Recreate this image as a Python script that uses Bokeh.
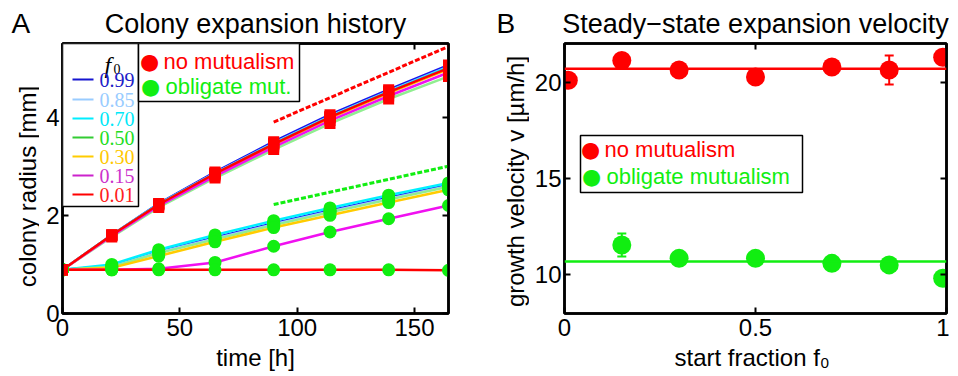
import math
from bokeh.plotting import figure
from bokeh.layouts import row
from bokeh.models import (Label, BoxAnnotation, Arrow, Whisker, TeeHead, ColumnDataSource,
                          LinearAxis, Range1d, FixedTicker, Span, CustomJSTickFormatter)
from bokeh.embed import file_html
from bokeh.resources import INLINE

# ---------------- Panel A data ----------------
time_h = [0, 21, 41, 65, 90, 114, 139, 164.5]
f0_labels = ["0.99", "0.85", "0.70", "0.50", "0.30", "0.15", "0.01"]

nomut_099 = [0.89, 1.60, 2.24, 2.88, 3.50, 4.05, 4.56, 5.06]
nomut_085 = [0.89, 1.60, 2.23, 2.86, 3.47, 4.02, 4.53, 5.03]
nomut_070 = [0.89, 1.60, 2.23, 2.85, 3.46, 4.01, 4.52, 5.02]
nomut_050 = [0.89, 1.56, 2.16, 2.76, 3.34, 3.87, 4.37, 4.83]
nomut_030 = [0.89, 1.59, 2.21, 2.83, 3.43, 3.98, 4.49, 4.98]
nomut_015 = [0.89, 1.58, 2.19, 2.80, 3.39, 3.93, 4.43, 4.91]
nomut_001 = [0.89, 1.60, 2.22, 2.85, 3.45, 4.00, 4.51, 5.00]

oblig_099 = [0.89, 0.97, 1.26, 1.55, 1.84, 2.10, 2.36, 2.62]
oblig_085 = [0.89, 0.96, 1.25, 1.53, 1.82, 2.08, 2.34, 2.60]
oblig_070 = [0.89, 1.00, 1.30, 1.60, 1.89, 2.15, 2.41, 2.66]
oblig_050 = [0.89, 0.95, 1.23, 1.51, 1.80, 2.06, 2.32, 2.58]
oblig_030 = [0.89, 0.93, 1.17, 1.46, 1.75, 2.00, 2.26, 2.52]
oblig_015 = [0.89, 0.89, 0.91, 1.04, 1.37, 1.66, 1.93, 2.20]
oblig_001 = [0.89, 0.89, 0.89, 0.89, 0.89, 0.89, 0.89, 0.88]

fit_t = [90, 164.5]
fit_nomut = [3.90, 5.44]
fit_oblig = [2.22, 3.00]

# ---------------- Panel B data ----------------
f0_nomut = [0.01, 0.15, 0.30, 0.50, 0.70, 0.85, 0.99]
v_nomut = [20.09, 21.12, 20.63, 20.26, 20.78, 20.63, 21.29]
v_nomut_err = [0.2, 0.2, 0.2, 0.2, 0.2, 0.75, 0.2]
f0_oblig = [0.15, 0.30, 0.50, 0.70, 0.85, 0.99]
v_oblig = [11.55, 10.86, 10.86, 10.60, 10.52, 9.83]
v_oblig_err = [0.6, 0.2, 0.2, 0.2, 0.2, 0.2]
v_nomut_mean = 20.69
v_oblig_mean = 10.69

# ---------------- styles ----------------
RED = "#FF0000"
GREEN = "#11EE11"
SANS = "Liberation Sans"
SERIF = "Liberation Serif"
line_colors = ["#1515F0", "#99CCFF", "#00F0FF", "#90EE90", "#FFCC00", "#F010F0", "#FF0000"]
legend_line_colors = ["#1515D0", "#99CCFF", "#00EEFF", "#33CC33", "#FFCC00", "#CC22CC", "#FF0000"]
legend_text_colors = ["#2020C8", "#99CCFF", "#00E8F8", "#22DD22", "#FFC800", "#CC33CC", "#FF2020"]
EMPTY = CustomJSTickFormatter(code="return '';")
FH = 270
TOP = 34
BOTTOM = 56


def style_title(p, size="27px", align="center"):
    p.title.text_font = SANS
    p.title.text_font_size = size
    p.title.text_font_style = "normal"
    p.title.align = align
    p.title.text_color = "black"


def style_axes(p, xticks, yticks, xfmt=None):
    p.xaxis.ticker = FixedTicker(ticks=xticks)
    p.yaxis.ticker = FixedTicker(ticks=yticks)
    if xfmt is not None:
        p.xaxis.formatter = xfmt
    top = LinearAxis(ticker=FixedTicker(ticks=xticks), formatter=EMPTY)
    right = LinearAxis(ticker=FixedTicker(ticks=yticks), formatter=EMPTY)
    p.add_layout(top, "above")
    p.add_layout(right, "right")
    for ax in [top, right]:
        ax.major_label_standoff = 0
    for ax in p.xaxis + p.yaxis:
        ax.axis_line_width = 2.5
        ax.axis_line_color = "black"
        ax.major_tick_in = 6
        ax.major_tick_out = 0
        ax.major_tick_line_width = 2
        ax.minor_tick_line_color = None
        ax.major_label_text_font = SANS
        ax.major_label_text_font_size = "24px"
        ax.major_label_text_color = "black"
        ax.axis_label_text_font = SANS
        ax.axis_label_text_font_size = "24px"
        ax.axis_label_text_font_style = "normal"
        ax.axis_label_text_color = "black"
    for ax in [top, right]:
        ax.major_label_text_font_size = "1px"
    p.xaxis[0].major_label_standoff = 3
    p.xaxis[0].axis_label_standoff = 2
    p.yaxis[0].major_label_standoff = 3
    p.xgrid.visible = False
    p.ygrid.visible = False
    p.outline_line_color = "black"
    p.outline_line_width = 2.5
    style_title(p)


def lab(p, x, y, text, color="black", size="22px", font=SANS, style="normal",
        align="left", baseline="middle", angle=0.0):
    p.add_layout(Label(x=x, y=y, x_units="screen", y_units="screen", text=text,
                       text_color=color, text_font_size=size, text_font=font,
                       text_font_style=style, text_align=align, text_baseline=baseline,
                       angle=angle))


def box(p, left, right, top, bottom):
    p.add_layout(BoxAnnotation(left=left, right=right, top=top, bottom=bottom,
                               left_units="screen", right_units="screen",
                               top_units="screen", bottom_units="screen",
                               fill_color="white", fill_alpha=1.0,
                               line_color="black", line_width=1.5, line_alpha=1.0))


def text_strip(width, letter, offset):
    s = figure(width=width, frame_height=FH, min_border_left=0, min_border_right=0,
               min_border_top=TOP, min_border_bottom=BOTTOM,
               x_axis_type=None, y_axis_type=None, title=letter,
               x_range=Range1d(0, width), y_range=Range1d(0, 1),
               output_backend="svg", toolbar_location=None)
    s.outline_line_color = None
    s.xgrid.visible = False
    s.ygrid.visible = False
    style_title(s, size="28px", align="left")
    s.title.offset = offset
    return s


# ================= strip with "A" and the y label of panel A =================
stripA = text_strip(39, "A", 11)
lab(stripA, 27, 127, "colony radius [mm]", size="24px", align="center", angle=math.pi / 2)

# ================= Panel A =================
pa = figure(width=432, frame_height=FH, min_border_left=23, min_border_right=23,
            min_border_top=TOP, min_border_bottom=BOTTOM,
            x_range=Range1d(0, 164.5), y_range=Range1d(0, 5.5),
            output_backend="svg", toolbar_location=None,
            title="Colony expansion history", x_axis_label="time [h]")
style_axes(pa, [0, 50, 100, 150], [0, 2, 4])
pa.title.offset = -5

nomut_series = [nomut_099, nomut_085, nomut_070, nomut_050, nomut_030, nomut_015, nomut_001]
oblig_series = [oblig_099, oblig_085, oblig_070, oblig_050, oblig_030, oblig_015, oblig_001]

for ys, c in zip(oblig_series, line_colors):
    pa.line(time_h, ys, line_color=c, line_width=2.5)
for ys, c in zip(nomut_series, line_colors):
    pa.line(time_h, ys, line_color=c, line_width=2.5)
pa.line(fit_t, fit_nomut, line_color=RED, line_width=3, line_dash="5 2")
pa.line(fit_t, fit_oblig, line_color=GREEN, line_width=3, line_dash="5 2")
for ys in oblig_series:
    pa.scatter(time_h, ys, marker="circle", size=13, fill_color=GREEN, line_color=None)
for ys in nomut_series:
    pa.scatter(time_h, ys, marker="square", size=11, fill_color=RED, line_color=None)

# f0 legend (screen coords relative to frame bottom-left)
box(pa, 0, 76, 270, 107)
lab(pa, 42, 249, "f", size="24px", font=SERIF, style="italic", baseline="alphabetic")
lab(pa, 51, 245, "0", size="14px", font=SERIF, baseline="alphabetic")
row_y = [234, 214, 195, 176, 157, 138, 119]
for yy, t, lc, tc in zip(row_y, f0_labels, legend_line_colors, legend_text_colors):
    pa.add_layout(Arrow(end=None, x_start=10, y_start=yy, x_end=31, y_end=yy,
                        start_units="screen", end_units="screen",
                        line_color=lc, line_width=2))
    lab(pa, 37, yy, t, color=tc, size="20px", font=SERIF)

# marker legend
box(pa, 76, 237, 270, 212)
lab(pa, 87, 252, "\u25cf", color=RED, size="22px", font="DejaVu Sans", align="center")
lab(pa, 101, 252, "no mutualism", color=RED, size="22px")
lab(pa, 88, 227, "\u25cf", color=GREEN, size="22px", font="DejaVu Sans", align="center")
lab(pa, 103, 227, "obligate mut.", color=GREEN, size="22px")

# ================= strip with "B" and the y label of panel B =================
stripB = text_strip(58, "B", 25)
lab(stripB, 44, 132, "growth velocity v [\u00b5m/h]", size="24px", align="center",
    angle=math.pi / 2)

# ================= Panel B =================
pb = figure(width=420, frame_height=FH, min_border_left=35, min_border_right=3,
            min_border_top=TOP, min_border_bottom=BOTTOM,
            x_range=Range1d(0, 1), y_range=Range1d(8, 22),
            output_backend="svg", toolbar_location=None,
            title="Steady\u2212state expansion velocity",
            x_axis_label="start fraction  f\u2080")
style_axes(pb, [0, 0.5, 1], [10, 15, 20],
           xfmt=CustomJSTickFormatter(code="return tick.toString();"))

pb.add_layout(Span(location=v_nomut_mean, dimension="width", line_color=RED, line_width=2.5))
pb.add_layout(Span(location=v_oblig_mean, dimension="width", line_color=GREEN, line_width=2.5))

src_r = ColumnDataSource(dict(x=f0_nomut, y=v_nomut,
                              lo=[v - e for v, e in zip(v_nomut, v_nomut_err)],
                              hi=[v + e for v, e in zip(v_nomut, v_nomut_err)]))
src_g = ColumnDataSource(dict(x=f0_oblig, y=v_oblig,
                              lo=[v - e for v, e in zip(v_oblig, v_oblig_err)],
                              hi=[v + e for v, e in zip(v_oblig, v_oblig_err)]))
for src, c in [(src_r, RED), (src_g, GREEN)]:
    w = Whisker(source=src, base="x", lower="lo", upper="hi", line_color=c, line_width=2,
                lower_head=TeeHead(size=9, line_color=c, line_width=2),
                upper_head=TeeHead(size=9, line_color=c, line_width=2), level="underlay")
    pb.add_layout(w)
pb.scatter("x", "y", source=src_r, marker="circle", size=19, fill_color=RED, line_color=None)
pb.scatter("x", "y", source=src_g, marker="circle", size=19, fill_color=GREEN, line_color=None)

box(pb, 16, 238, 178, 121)
lab(pb, 26, 164, "\u25cf", color=RED, size="22px", font="DejaVu Sans", align="center")
lab(pb, 40, 164, "no mutualism", color=RED, size="22px")
lab(pb, 27, 137, "\u25cf", color=GREEN, size="22px", font="DejaVu Sans", align="center")
lab(pb, 42, 137, "obligate mutualism", color=GREEN, size="22px")

layout = row(stripA, pa, stripB, pb)
open("out.html", "w").write(file_html(layout, INLINE))
